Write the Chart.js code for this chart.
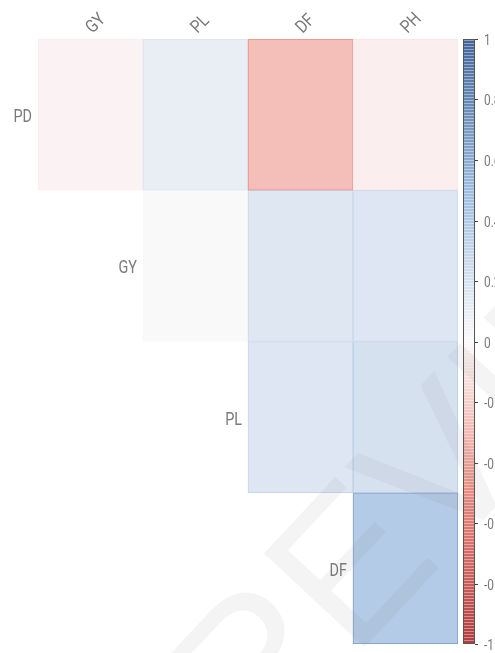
<!DOCTYPE html>
<html>
<head>
<meta charset="utf-8">
<script src="https://cdn.jsdelivr.net/npm/chart.js@4/dist/chart.umd.min.js"></script>
<style>
  html, body { margin: 0; padding: 0; background: #fff; overflow: hidden; }
  #wrap { width: 495px; height: 653px; }
</style>
</head>
<body>
<div id="wrap"><canvas id="chartCorr" width="495" height="653"></canvas></div>
<script>
// variáveis da matriz (triângulo superior)
const colLabels = ['GY', 'PL', 'DF', 'PH'];
const rowLabels = ['PD', 'GY', 'PL', 'DF'];

// correlações por linha (null = célula vazia)
const rowPD = [-0.03, 0.10, -0.27, -0.05];
const rowGY = [null, 0.01, 0.15, 0.16];
const rowPL = [null, null, 0.16, 0.20];
const rowDF = [null, null, null, 0.38];
const corrRows = [rowPD, rowGY, rowPL, rowDF];

const barTicks = [1, 0.8, 0.6, 0.4, 0.2, 0, -0.2, -0.4, -0.6, -0.8, -1];

const txtColor = '#7a7a7a';
const fontFam = 'Roboto, "Liberation Sans", sans-serif';

// paleta vermelho -> branco -> azul
const stops = [
    [-1, [176, 60, 62]],
    [-0.5, [236, 140, 128]],
    [0, [252, 250, 250]],
    [0.5, [156, 188, 224]],
    [1, [66, 102, 152]]
];
function colorFor(v) {
    v = Math.max(-1, Math.min(1, v));
    for (let i = 0; i < stops.length - 1; i++) {
        const [a, ca] = stops[i];
        const [b, cb] = stops[i + 1];
        if (v >= a && v <= b) {
            const t = (v - a) / (b - a);
            const c = ca.map((x, k) => Math.round(x + (cb[k] - x) * t));
            return `rgb(${c[0]},${c[1]},${c[2]})`;
        }
    }
    return '#fff';
}

const datasets = corrRows.map((vals, r) => ({
    label: rowLabels[r],
    data: vals.map(v => v === null ? null : [r, r + 1]),
    backgroundColor: vals.map(v => v === null ? 'rgba(0,0,0,0)' : colorFor(v)),
    borderColor: vals.map(v => v === null ? 'rgba(0,0,0,0)' : colorFor(v * 1.8)),
    borderWidth: 1,
    borderSkipped: false,
    barPercentage: 1,
    categoryPercentage: 1,
    grouped: false,
    yAxisID: 'y'
}));

// texto estreito (fonte condensada simulada)
function narrowText(ctx, txt, x, y, align, sx) {
    ctx.save();
    ctx.translate(x, y);
    ctx.scale(sx, 1);
    ctx.textAlign = align;
    ctx.fillText(txt, 0, 0);
    ctx.restore();
}

// rótulos, barra de cores e marca d'água
const corrPlugin = {
    id: 'corrExtras',
    afterDatasetsDraw(chart) {
        const { ctx, chartArea, scales } = chart;
        const x = scales.x, y = scales.y, y2 = scales.y2;
        const colW = (chartArea.right - chartArea.left) / colLabels.length;

        ctx.save();
        ctx.fillStyle = txtColor;
        ctx.font = '18px ' + fontFam;
        ctx.textBaseline = 'middle';
        rowLabels.forEach((lab, r) => {
            const px = x.getPixelForValue(r) - colW / 2 - 6;
            const py = y.getPixelForValue(r + 0.5);
            narrowText(ctx, lab, px, py + 3, 'right', 0.8);
        });

        // rótulos das colunas, girados
        ctx.textBaseline = 'alphabetic';
        colLabels.forEach((lab, c) => {
            ctx.save();
            ctx.translate(x.getPixelForValue(c) + 2, chartArea.top - 5);
            ctx.rotate(-Math.PI / 4);
            ctx.scale(0.85, 1);
            ctx.textAlign = 'left';
            ctx.fillText(lab, 0, 0);
            ctx.restore();
        });

        // barra de cores
        const bx = chartArea.right + 5, bw = 12;
        const top = y2.getPixelForValue(1), bot = y2.getPixelForValue(-1);
        const grad = ctx.createLinearGradient(0, top, 0, bot);
        stops.forEach(([v]) => grad.addColorStop((1 - v) / 2, colorFor(v)));
        ctx.fillStyle = grad;
        ctx.fillRect(bx, top, bw, bot - top);
        // listras finas
        ctx.fillStyle = 'rgba(255,255,255,0.4)';
        for (let py = top + 1; py < bot; py += 3) ctx.fillRect(bx, py, bw, 1);
        ctx.strokeStyle = '#555';
        ctx.lineWidth = 1;
        ctx.strokeRect(bx + 0.5, top + 0.5, bw - 1, bot - top - 1);
        ctx.strokeStyle = '#444';
        ctx.fillStyle = txtColor;
        ctx.font = '14px ' + fontFam;
        ctx.textBaseline = 'middle';
        barTicks.forEach(t => {
            const py = Math.round(y2.getPixelForValue(t)) + 0.5;
            ctx.beginPath();
            ctx.moveTo(bx + bw, py);
            ctx.lineTo(bx + bw + 3, py);
            ctx.stroke();
            narrowText(ctx, String(t), bx + bw + 9, py + 2, 'left', 0.85);
        });
        ctx.restore();
    },
    afterDraw(chart) {
        const { ctx } = chart;
        ctx.save();
        ctx.translate(255, 765);
        ctx.rotate(-47 * Math.PI / 180);
        ctx.font = '200px "Liberation Sans", sans-serif';
        ctx.fillStyle = 'rgba(110,110,110,0.08)';
        ctx.fillText('REVIEW', 0, 0);
        ctx.restore();
    }
};

const ctxCorr = document.getElementById('chartCorr');
new Chart(ctxCorr, {
    type: 'bar',
    data: { labels: colLabels, datasets: datasets },
    options: {
        responsive: false,
        animation: false,
        layout: { autoPadding: false, padding: { top: 0, bottom: 9, left: 0, right: 0 } },
        plugins: { legend: { display: false }, tooltip: { enabled: false } },
        scales: {
            x: {
                position: 'top',
                grid: { display: false },
                border: { display: false },
                ticks: { display: false },
                afterFit: s => { s.height = 39; }
            },
            y: {
                min: 0,
                max: 4,
                reverse: true,
                grid: { display: false },
                border: { display: false },
                ticks: { display: false },
                afterFit: s => { s.width = 38; }
            },
            y2: {
                type: 'linear',
                position: 'right',
                min: -1,
                max: 1,
                grid: { display: false },
                border: { display: false },
                ticks: { display: false, stepSize: 0.2 },
                afterFit: s => { s.width = 37; }
            }
        }
    },
    plugins: [corrPlugin]
});
</script>
</body>
</html>
